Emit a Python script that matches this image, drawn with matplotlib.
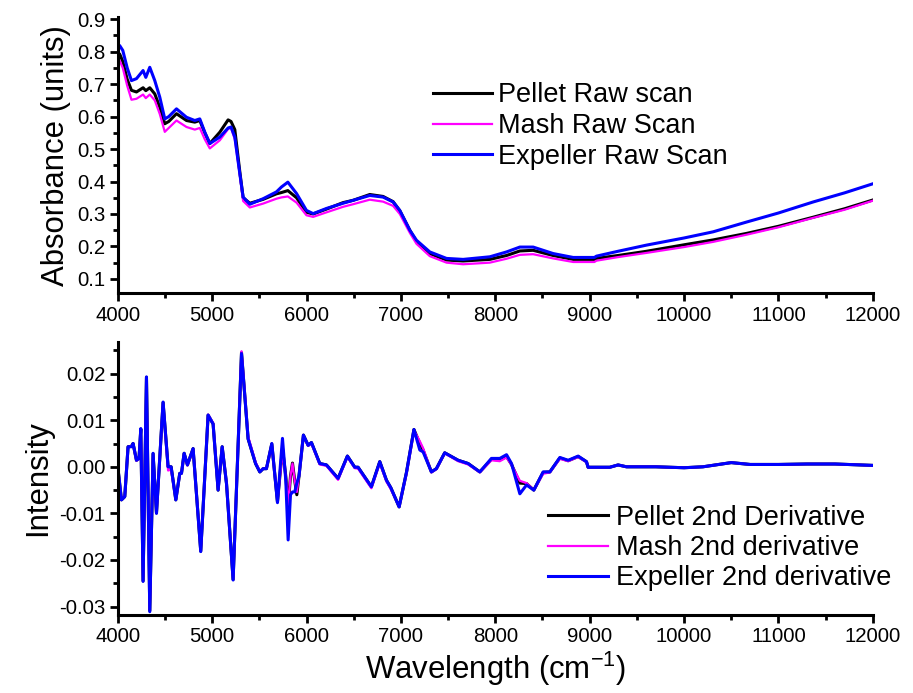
import matplotlib
matplotlib.use("Agg")
import matplotlib.pyplot as plt
from matplotlib.ticker import MultipleLocator, FormatStrFormatter

plt.rcParams['font.family'] = ['Liberation Sans', 'DejaVu Sans']
plt.rcParams['mathtext.fontset'] = 'custom'
plt.rcParams['mathtext.rm'] = 'Liberation Sans'
plt.rcParams['axes.unicode_minus'] = False

# ---- raw absorbance spectra ----
raw_wn = [4000, 4020, 4053, 4100, 4145, 4198, 4268, 4297, 4339, 4392, 4445, 4498,
          4540, 4622, 4728, 4816, 4869, 4922, 4975, 5081, 5169, 5200, 5240, 5293,
          5328, 5399, 5540, 5681, 5734, 5802, 5894, 5999, 6070, 6211, 6387, 6493,
          6670, 6811, 6917, 6988, 7094, 7165, 7306, 7483, 7659, 7942, 8119, 8260,
          8401, 8613, 8825, 9050, 9072, 9300, 9602, 10000, 10308, 10661, 11000,
          11368, 11700, 12000]

pellet_raw = [0.785, 0.793, 0.770, 0.715, 0.681, 0.676, 0.689, 0.680, 0.689, 0.670, 0.629, 0.578,
              0.585, 0.609, 0.588, 0.583, 0.588, 0.550, 0.517, 0.552, 0.590, 0.585, 0.560, 0.430,
              0.350, 0.333, 0.345, 0.362, 0.366, 0.372, 0.350, 0.305, 0.300, 0.315, 0.335, 0.342,
              0.360, 0.354, 0.338, 0.310, 0.250, 0.215, 0.178, 0.158, 0.155, 0.160, 0.172, 0.186,
              0.188, 0.172, 0.160, 0.160, 0.163, 0.172, 0.185, 0.205, 0.220, 0.240, 0.262,
              0.290, 0.316, 0.343]

mash_raw = [0.765, 0.773, 0.750, 0.695, 0.652, 0.655, 0.668, 0.657, 0.668, 0.650, 0.608, 0.553,
            0.565, 0.588, 0.568, 0.560, 0.565, 0.530, 0.502, 0.527, 0.562, 0.565, 0.530, 0.420,
            0.340, 0.320, 0.332, 0.347, 0.351, 0.354, 0.335, 0.296, 0.291, 0.305, 0.322, 0.330,
            0.344, 0.338, 0.325, 0.300, 0.242, 0.208, 0.170, 0.150, 0.145, 0.150, 0.162, 0.174,
            0.176, 0.163, 0.152, 0.152, 0.156, 0.167, 0.180, 0.198, 0.214, 0.236, 0.259,
            0.288, 0.313, 0.341]

expeller_raw = [0.810, 0.819, 0.804, 0.750, 0.711, 0.717, 0.742, 0.721, 0.752, 0.711, 0.660, 0.593,
                0.600, 0.624, 0.598, 0.588, 0.593, 0.552, 0.517, 0.537, 0.565, 0.568, 0.537, 0.424,
                0.352, 0.330, 0.347, 0.368, 0.383, 0.398, 0.363, 0.311, 0.301, 0.317, 0.333, 0.342,
                0.357, 0.352, 0.337, 0.311, 0.250, 0.219, 0.183, 0.163, 0.160, 0.168, 0.183, 0.198,
                0.198, 0.178, 0.166, 0.166, 0.170, 0.185, 0.204, 0.226, 0.245, 0.275, 0.303,
                0.337, 0.365, 0.393]

# ---- second-derivative spectra ----
der_wn = [4000, 4039, 4074, 4109, 4145, 4162, 4198, 4225, 4244, 4268, 4304, 4339,
          4374, 4410, 4480, 4533, 4565, 4615, 4657, 4675, 4703, 4738, 4798, 4879,
          4957, 5010, 5063, 5106, 5152, 5222, 5311, 5381, 5460, 5505, 5540, 5575,
          5632, 5692, 5745, 5780, 5805, 5830, 5851, 5875, 5897, 5920, 5967, 6017,
          6052, 6140, 6211, 6334, 6433, 6511, 6546, 6687, 6776, 6847, 6893, 6981,
          7059, 7138, 7200, 7235, 7323, 7376, 7464, 7606, 7712, 7836, 7959, 8048,
          8119, 8172, 8260, 8331, 8408, 8507, 8578, 8684, 8772, 8878, 8966, 8983,
          9213, 9301, 9390, 9700, 10000, 10200, 10500, 10700, 11000, 11300, 11600, 12000]

expeller_der = [0.0000, -0.0071, -0.0064, 0.0043, 0.0043, 0.0050, 0.0014, 0.0018, 0.0082, -0.0246, 0.0193, -0.0311,
                0.0029, -0.0100, 0.0139, 0.0000, 0.0000, -0.0071, -0.0014, -0.0014, 0.0029, 0.0004, 0.0039, -0.0182,
                0.0111, 0.0092, -0.0050, 0.0043, -0.0036, -0.0243, 0.0243, 0.0060, 0.0007, -0.0011, -0.0004, -0.0004,
                0.0050, -0.0077, 0.0061, -0.0029, -0.0157, -0.0060, -0.0054, -0.0054, -0.0035, -0.0020, 0.0068, 0.0046,
                0.0052, 0.0007, 0.0004, -0.0025, 0.0023, -0.0001, -0.0001, -0.0043, 0.0011, -0.0029, -0.0045, -0.0086,
                -0.0012, 0.0080, 0.0036, 0.0032, -0.0011, -0.0004, 0.0030, 0.0014, 0.0007, -0.0011, 0.0018, 0.0018,
                0.0026, 0.0007, -0.0058, -0.0039, -0.0050, -0.0011, -0.0011, 0.0020, 0.0014, 0.0023, 0.0011, -0.0001,
                -0.0001, 0.0004, 0.0000, 0.0000, -0.0002, 0.0000, 0.0009, 0.0005, 0.0005, 0.0006, 0.0006, 0.0003]

mash_der = [0.0000, -0.0070, -0.0063, 0.0042, 0.0045, 0.0049, 0.0013, 0.0017, 0.0080, -0.0243, 0.0190, -0.0306,
            0.0027, -0.0098, 0.0136, -0.0008, -0.0006, -0.0070, -0.0016, -0.0014, 0.0027, 0.0003, 0.0038, -0.0180,
            0.0112, 0.0094, -0.0048, 0.0042, -0.0035, -0.0241, 0.0248, 0.0065, 0.0010, -0.0010, -0.0004, -0.0004,
            0.0047, -0.0072, 0.0030, -0.0020, -0.0082, -0.0020, 0.0007, -0.0030, -0.0054, -0.0020, 0.0066, 0.0045,
            0.0050, 0.0005, 0.0002, -0.0028, 0.0021, -0.0003, -0.0004, -0.0046, 0.0008, -0.0032, -0.0048, -0.0085,
            -0.0015, 0.0078, 0.0055, 0.0040, -0.0012, -0.0005, 0.0029, 0.0012, 0.0005, -0.0012, 0.0014, 0.0012,
            0.0020, 0.0004, -0.0030, -0.0035, -0.0050, -0.0015, -0.0012, 0.0017, 0.0012, 0.0021, 0.0010, -0.0001,
            -0.0001, 0.0004, 0.0000, 0.0000, -0.0002, 0.0000, 0.0009, 0.0005, 0.0005, 0.0006, 0.0006, 0.0003]

pellet_der = [0.0000, -0.0071, -0.0064, 0.0043, 0.0044, 0.0050, 0.0014, 0.0018, 0.0081, -0.0245, 0.0192, -0.0309,
              0.0028, -0.0099, 0.0138, 0.0000, 0.0000, -0.0071, -0.0014, -0.0014, 0.0029, 0.0004, 0.0039, -0.0181,
              0.0111, 0.0092, -0.0050, 0.0043, -0.0036, -0.0242, 0.0245, 0.0060, 0.0007, -0.0011, -0.0004, -0.0004,
              0.0049, -0.0075, 0.0040, -0.0020, -0.0085, -0.0020, 0.0008, -0.0030, -0.0060, -0.0020, 0.0068, 0.0046,
              0.0052, 0.0007, 0.0004, -0.0025, 0.0023, -0.0001, -0.0001, -0.0043, 0.0011, -0.0029, -0.0045, -0.0086,
              -0.0012, 0.0080, 0.0050, 0.0036, -0.0011, -0.0004, 0.0030, 0.0014, 0.0007, -0.0011, 0.0016, 0.0015,
              0.0022, 0.0005, -0.0035, -0.0036, -0.0050, -0.0012, -0.0011, 0.0019, 0.0013, 0.0022, 0.0011, -0.0001,
              -0.0001, 0.0004, 0.0000, 0.0000, -0.0002, 0.0000, 0.0009, 0.0005, 0.0005, 0.0006, 0.0006, 0.0003]

raw_labels = ["Pellet Raw scan", "Mash Raw Scan", "Expeller Raw Scan"]
der_labels = ["Pellet 2nd Derivative", "Mash 2nd derivative", "Expeller 2nd derivative"]
colors = ["#000000", "#FF00FF", "#0000FF"]
widths = [2.2, 1.6, 2.2]

fig = plt.figure(figsize=(9.13, 6.93), dpi=100)
ax1 = fig.add_axes([0.129, 0.577, 0.827, 0.398])
ax2 = fig.add_axes([0.129, 0.1126, 0.827, 0.394])

for y, lab, c, lw in zip([pellet_raw, mash_raw, expeller_raw], raw_labels, colors, widths):
    ax1.plot(raw_wn, y, color=c, lw=lw, label=lab, solid_joinstyle='round')
for y, lab, c, lw in zip([pellet_der, mash_der, expeller_der], der_labels, colors, widths):
    ax2.plot(der_wn, y, color=c, lw=lw, label=lab, solid_joinstyle='round')


def style(ax):
    for s in ("top", "right"):
        ax.spines[s].set_visible(False)
    for s in ("left", "bottom"):
        ax.spines[s].set_linewidth(2.2)
    ax.set_xlim(4000, 12000)
    ax.xaxis.set_major_locator(MultipleLocator(1000))
    ax.xaxis.set_minor_locator(MultipleLocator(500))
    ax.tick_params(which='major', direction='out', length=6, width=2.0,
                   labelsize=14.7, pad=3)
    ax.tick_params(which='minor', direction='out', length=3.5, width=2.0)


style(ax1)
ax1.set_ylim(0.056, 0.906)
ax1.yaxis.set_major_locator(MultipleLocator(0.1))
ax1.yaxis.set_minor_locator(MultipleLocator(0.05))
ax1.yaxis.set_major_formatter(FormatStrFormatter('%.1f'))
ax1.set_ylabel("Absorbance (units)", fontsize=22.4, labelpad=4)

style(ax2)
ax2.set_ylim(-0.0318, 0.0268)
ax2.yaxis.set_major_locator(MultipleLocator(0.01))
ax2.yaxis.set_minor_locator(MultipleLocator(0.005))
ax2.yaxis.set_major_formatter(FormatStrFormatter('%.2f'))
ax2.set_ylabel("Intensity", fontsize=22.4, labelpad=4)
ax2.set_xlabel(r"Wavelength (cm$^{\mathregular{-1}}$)", fontsize=22.4, labelpad=2)

ax1.legend(loc='center left', bbox_to_anchor=(0.417, 0.606), frameon=False,
           fontsize=19.5, handlelength=2.2, handletextpad=0.2,
           labelspacing=0.18, borderpad=0, borderaxespad=0)
ax2.legend(loc='center left', bbox_to_anchor=(0.570, 0.245), frameon=False,
           fontsize=19.5, handlelength=2.2, handletextpad=0.32,
           labelspacing=0.16, borderpad=0, borderaxespad=0)

fig.savefig("out.png", dpi=100)
